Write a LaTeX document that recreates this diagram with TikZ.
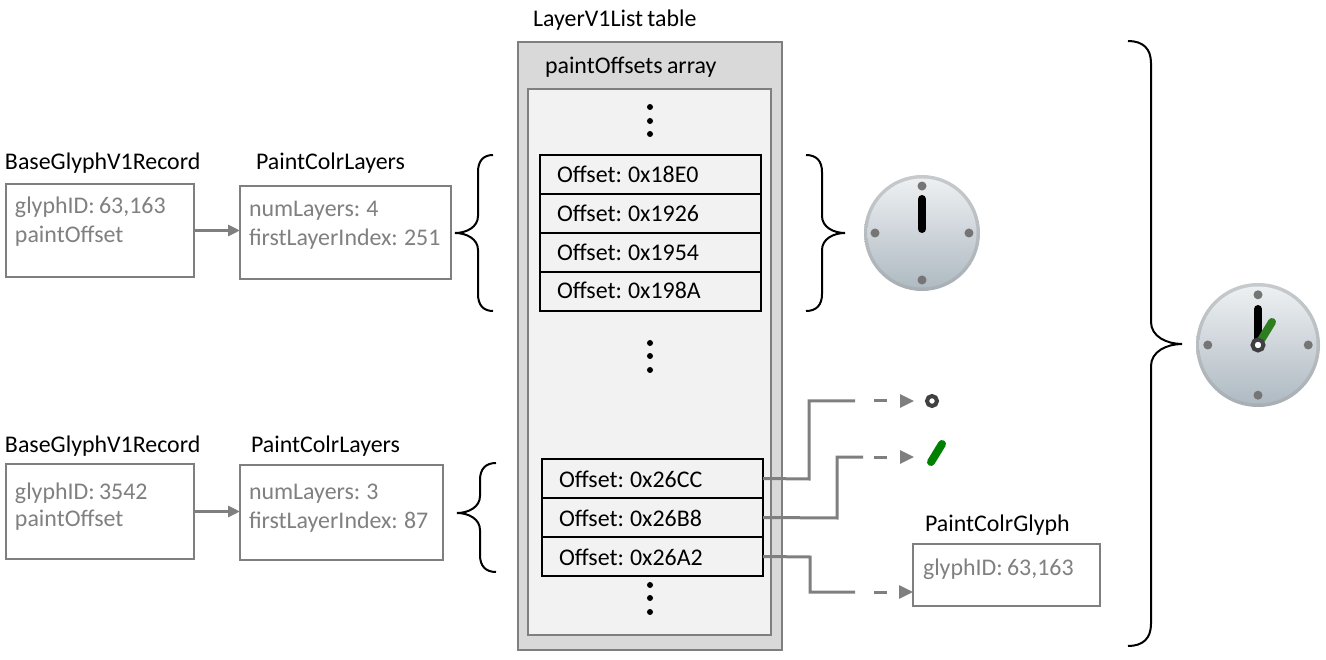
\documentclass[tikz,border=0pt]{standalone}
\usepackage{fontspec}
\setmainfont[WordSpace=0.8]{Carlito}
\usetikzlibrary{arrows.meta}
\definecolor{gr}{HTML}{7F7F7F}
\definecolor{grt}{HTML}{808080}
\definecolor{hand}{HTML}{2E7D1E}
\definecolor{tblo}{HTML}{D9D9D9}
\definecolor{tbli}{HTML}{F2F2F2}
\definecolor{ClockT}{HTML}{C6CACC}
\definecolor{ClockB}{HTML}{A8AFB4}
\definecolor{ClockA}{HTML}{EDF0F2}
\definecolor{ClockC}{HTML}{DADDDF}
\definecolor{ClockD}{HTML}{AFBAC2}
\definecolor{ClockG}{HTML}{757575}
\tikzset{
  x=1pt,y=-1pt,
  box/.style={draw=gr,line width=2pt,fill=white,rectangle,anchor=north west,inner sep=0,outer sep=0},
  offs/.style={draw=black,line width=2pt,rectangle,anchor=north west,inner sep=0,outer sep=0,minimum width=221,minimum height=39},
  lab/.style={anchor=base west,inner sep=0,outer sep=0,font=\fontsize{23.9}{28}\selectfont,text=black},
  glab/.style={lab,text=grt},
  dot/.style={circle,fill=black,inner sep=0,minimum size=6},
  tick/.style={circle,fill=ClockG,inner sep=0,minimum size=9},
  conn/.style={draw=gr,line width=3pt},
  dashc/.style={draw=gr,line width=3pt,dash pattern=on 13pt off 13pt,-{Triangle[length=14pt,width=13pt]}},
  arr/.style={draw=gr,line width=3pt,-{Triangle[length=12pt,width=11pt]}},
  brc/.style={draw=black,line width=2pt,line cap=butt}
}
\newcommand{\mybrace}[7]{% xend xbody xtip ytop ymid ybot r
  \draw[brc] (#1,#4) .. controls ({#2+0.35*(#1-#2)},#4) and (#2,{#4+0.35*#7}) .. (#2,{#4+#7})
    -- (#2,{#5-#7}) .. controls (#2,{#5-0.35*#7}) and ({#3+0.5*(#2-#3)},#5) .. (#3,#5)
    .. controls ({#3+0.5*(#2-#3)},#5) and (#2,{#5+0.35*#7}) .. (#2,{#5+#7})
    -- (#2,{#6-#7}) .. controls (#2,{#6-0.35*#7}) and ({#2+0.35*(#1-#2)},#6) .. (#1,#6);
}
\newcommand{\myclock}[3]{% x y r
  \shade[top color=ClockT,bottom color=ClockB] (#1,#2) circle (#3);
  \shade[top color=ClockA,middle color=ClockC,bottom color=ClockD] (#1,#2) circle ({#3-3.5});
  \node[tick] at (#1,{#2-0.81*#3}) {};
  \node[tick] at (#1,{#2+0.81*#3}) {};
  \node[tick] at ({#1-0.81*#3},#2) {};
  \node[tick] at ({#1+0.81*#3},#2) {};
}
\begin{document}
\begin{tikzpicture}
\useasboundingbox (0,0) rectangle (1326,660);
% table
\node[box,fill=tblo,minimum width=264,minimum height=608] (tbl) at (518,42) {};
\node[box,fill=tbli,minimum width=243,minimum height=546] (arr) at (528,89) {};
\node[lab] (tt) at (533,27) {LayerV1List table};
\node[lab] (at) at (545,74) {paintOffsets array};
% offsets
\node[offs] (o1) at (540,155) {};
\node[offs] (o2) at (540,194) {};
\node[offs] (o3) at (540,233) {};
\node[offs] (o4) at (540,272) {};
\node[offs] (o5) at (542,459) {};
\node[offs] (o6) at (542,498) {};
\node[offs] (o7) at (542,537) {};
\node[lab] (t1) at (557,183) {Offset: 0x18E0};
\node[lab] (t2) at (557,222) {Offset: 0x1926};
\node[lab] (t3) at (557,261) {Offset: 0x1954};
\node[lab] (t4) at (557,299) {Offset: 0x198A};
\node[lab] (t5) at (559,487) {Offset: 0x26CC};
\node[lab] (t6) at (559,526) {Offset: 0x26B8};
\node[lab] (t7) at (559,565) {Offset: 0x26A2};
% ellipses
\foreach \n/\y in {a/107,b/121,c/134,d/343,e/356,f/370,g/585,h/598,i/612}
  \node[dot] (d\n) at (650,\y) {};
% left boxes
\node[box,minimum width=188,minimum height=93] (b1) at (6,184) {};
\node[box,minimum width=211,minimum height=93] (p1) at (240,186) {};
\node[box,minimum width=188,minimum height=95] (b2) at (6,464) {};
\node[box,minimum width=203,minimum height=95] (p2) at (240,465) {};
\node[box,minimum width=187,minimum height=62] (g1) at (913,544) {};
\node[lab] (l1) at (5,170) {BaseGlyphV1Record};
\node[lab] (l2) at (256,170) {PaintColrLayers};
\node[lab] (l3) at (5,452) {BaseGlyphV1Record};
\node[lab] (l4) at (251,452) {PaintColrLayers};
\node[lab] (l5) at (925,531) {PaintColrGlyph};
\node[glab] (g11) at (15,214) {glyphID: 63,163};
\node[glab] (g12) at (15,243) {paintOffset};
\node[glab] (g13) at (249,217) {numLayers: 4};
\node[glab] (g14) at (249,246) {firstLayerIndex: 251};
\node[glab] (g21) at (15,499) {glyphID: 3542};
\node[glab] (g22) at (15,526) {paintOffset};
\node[glab] (g23) at (249,499) {numLayers: 3};
\node[glab] (g24) at (249,528) {firstLayerIndex: 87};
\node[glab] (g31) at (923,575) {glyphID: 63,163};
% arrows
\draw[arr] (b1.east) -- (p1.west |- b1.east);
\draw[arr] (b2.east) -- (p2.west |- b2.east);
% braces
\mybrace{493}{478}{455}{155}{233}{311}{17}
\mybrace{496}{480}{457}{463}{513}{572}{17}
\mybrace{806}{822}{845}{155}{233}{311}{17}
\mybrace{1128}{1151}{1182}{41}{344}{646}{22}
% clocks
\myclock{922}{233}{58}
\draw[line width=8pt,line cap=round,black] (922,199) -- (922,229);
\myclock{1258}{345}{62}
\draw[line width=8pt,line cap=round,black] (1258,309) -- (1258,345);
\draw[line width=8pt,line cap=round,hand] (1258,345) -- (1272,322);
\draw[line width=4pt,draw=black!75,fill=white] (1258,345) circle (5.5);
% small targets
\node[circle,draw=black!75,line width=4pt,fill=white,inner sep=0,minimum size=10] (ring) at (932,401) {};
\coordinate (tick) at (914,457);
\draw[line width=8pt,line cap=round,color=green!50!black] (931,462) -- (942,444);
% connectors
\coordinate (ringin) at (914,401);
\coordinate (c1a) at (855,401);
\coordinate (c2a) at (863,457);
\coordinate (c3a) at (855,592);
\coordinate (d1) at (874,401);
\coordinate (d2) at (874,457);
\coordinate (d3) at (874,592);
\draw[conn] (o5.east) -- (809,479) -- (809,401) -- (c1a);
\draw[dashc] (d1) -- (ringin);
\draw[conn] (o6.east) -- (837,518) -- (837,457) -- (c2a);
\draw[dashc] (d2) -- (tick);
\draw[conn] (o7.east) -- (810,557) -- (810,592) -- (c3a);
\draw[dashc] (d3) -- (g1.west |- d3);
\end{tikzpicture}
\end{document}
